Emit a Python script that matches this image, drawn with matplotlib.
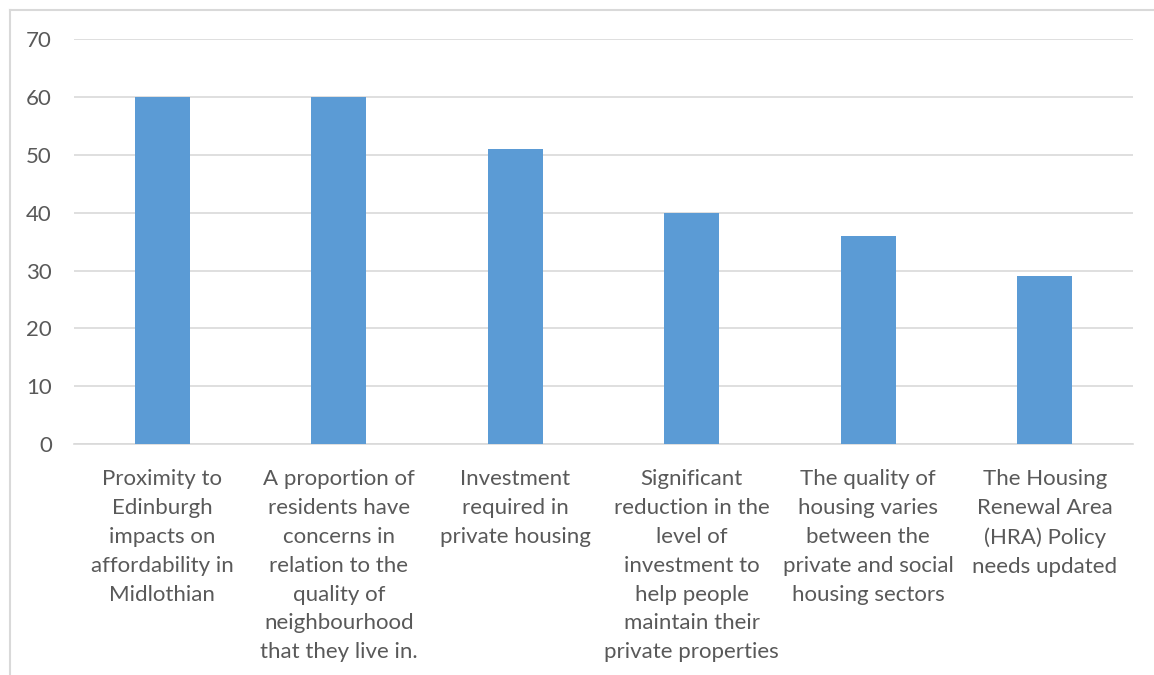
import matplotlib.pyplot as plt
from matplotlib.lines import Line2D

categories = [
    "Proximity to\nEdinburgh\nimpacts on\naffordability in\nMidlothian",
    "A proportion of\nresidents have\nconcerns in\nrelation to the\nquality of\nneighbourhood\nthat they live in.",
    "Investment\nrequired in\nprivate housing",
    "Significant\nreduction in the\nlevel of\ninvestment to\nhelp people\nmaintain their\nprivate properties",
    "The quality of\nhousing varies\nbetween the\nprivate and social\nhousing sectors",
    "The Housing\nRenewal Area\n(HRA) Policy\nneeds updated",
]
values = [60, 60, 51, 40, 36, 29]
y_ticks = [0, 10, 20, 30, 40, 50, 60, 70]

W, H = 1154, 675
text_col = "#595959"
grid_col = "#D9D9D9"

plt.rcParams['font.family'] = ['Lato', 'DejaVu Sans']

fig = plt.figure(figsize=(W / 100, H / 100), dpi=100)
ax = fig.add_axes([74 / W, (H - 444) / H, (1133 - 74) / W, (444 - 39.4) / H])

x = range(len(categories))
ax.bar(x, values, width=0.31, color="#5B9BD5", zorder=3)

ax.set_xlim(-0.5, len(categories) - 0.5)
ax.set_ylim(0, 70)
ax.set_yticks(y_ticks)
ax.set_xticks(list(x))
ax.set_xticklabels(categories, linespacing=1.555)
ax.tick_params(axis='both', length=0, labelsize=16, labelcolor=text_col)
ax.tick_params(axis='y', pad=16)
ax.tick_params(axis='x', pad=18)

ax.yaxis.grid(True, color=grid_col, linewidth=1.2, zorder=0)
for s in ['top', 'right', 'left']:
    ax.spines[s].set_visible(False)
ax.spines['bottom'].set_color(grid_col)
ax.spines['bottom'].set_linewidth(1.2)

# outer frame, open on the right and bottom
fig.add_artist(Line2D([10 / W, 1], [1 - 10 / H, 1 - 10 / H], color=grid_col, linewidth=1.5))
fig.add_artist(Line2D([10 / W, 10 / W], [0, 1 - 10 / H], color=grid_col, linewidth=1.5))

fig.savefig("out.png", dpi=100)
